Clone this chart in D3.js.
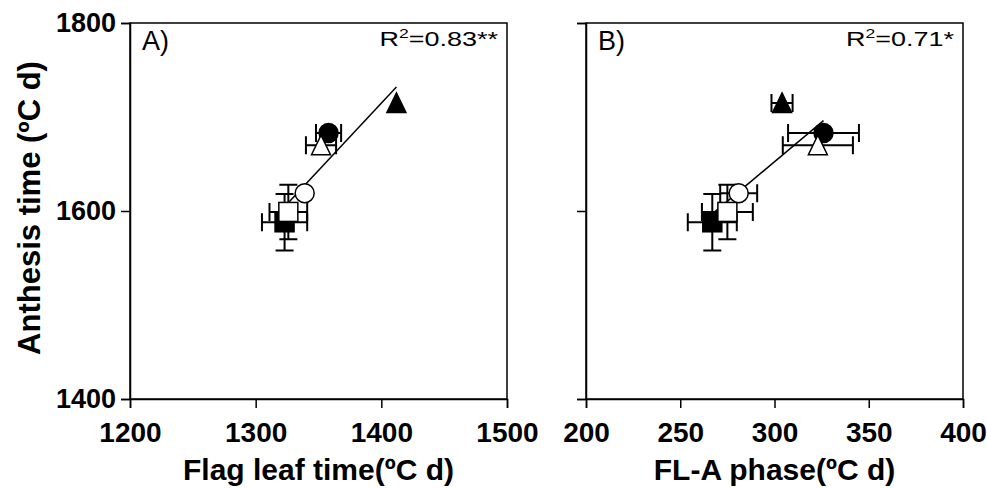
<!DOCTYPE html>
<html>
<head>
<meta charset="utf-8">
<script src="https://cdn.jsdelivr.net/npm/d3@7"></script>
<style>
  body { margin: 0; background: #fff; }
  svg text { font-family: Arial, "Liberation Sans", Helvetica, sans-serif; }
</style>
</head>
<body>
<div id="chart"></div>
<script>
// six treatments, same order in every array
const anthesis = [1715, 1683, 1670, 1619, 1599, 1588];
const anthesisErr = [4, 5, 5, 5, 29, 30];
const flagLeaf = [1412, 1358, 1352, 1339, 1326, 1323];
const flagLeafErr = [3, 10, 12, 5, 15, 18];
const flPhase = [304, 326, 323, 281, 275, 267];
const flPhaseErr = [5.6, 18.8, 18.6, 9.8, 13.5, 13];
const xTicksA = [1200, 1300, 1400, 1500];
const xTicksB = [200, 250, 300, 350, 400];
const yTicks = [1400, 1600, 1800];

const shapes = ["triangle", "circle", "triangle", "circle", "square", "square"];
const fills = ["#000", "#000", "#fff", "#fff", "#fff", "#000"];
const drawOrder = [5, 4, 3, 1, 2, 0];

const width = 987, height = 488;
const plotTop = 23, plotBottom = 399;
const markerR = 10;

const svg = d3.select("#chart").append("svg")
    .attr("width", width)
    .attr("height", height);

const y = d3.scaleLinear().domain([1400, 1800]).range([plotBottom, plotTop]);

function panel(left, right, xs, xErr, xDomain, xTicks, letter, r2, xTitle, showYLabels) {
    const x = d3.scaleLinear().domain(xDomain).range([left, right]);
    const g = svg.append("g");

    // frame
    g.append("rect")
        .attr("x", left).attr("y", plotTop)
        .attr("width", right - left).attr("height", plotBottom - plotTop)
        .attr("fill", "none").attr("stroke", "#000").attr("stroke-width", 1.5);

    const xa = g.append("g")
        .attr("transform", `translate(0,${plotBottom})`)
        .call(d3.axisBottom(x).tickValues(xTicks).tickSize(9).tickPadding(14).tickFormat(d3.format("d")));
    const ya = g.append("g")
        .attr("transform", `translate(${left},0)`)
        .call(d3.axisLeft(y).tickValues(yTicks).tickSize(9).tickPadding(5)
            .tickFormat(showYLabels ? d3.format("d") : () => ""));
    [xa, ya].forEach(a => {
        a.select(".domain").attr("stroke-width", 1.5);
        a.selectAll(".tick line").attr("stroke-width", 1.5);
        a.selectAll("text").attr("font-weight", "bold")
            .attr("fill", "#000").style("font-family", "Arial, 'Liberation Sans', sans-serif");
    });
    xa.selectAll("text").attr("font-size", 28);
    ya.selectAll("text").attr("font-size", 27);

    // regression line (least squares)
    const mx = d3.mean(xs), my = d3.mean(anthesis);
    const slope = d3.sum(xs, (v, i) => (v - mx) * (anthesis[i] - my)) / d3.sum(xs, v => (v - mx) * (v - mx));
    const [x0, x1] = d3.extent(xs);
    g.append("line")
        .attr("x1", x(x0)).attr("y1", y(my + slope * (x0 - mx)))
        .attr("x2", x(x1)).attr("y2", y(my + slope * (x1 - mx)))
        .attr("stroke", "#000").attr("stroke-width", 1.5);

    // error bars, left out when shorter than the symbol
    const cap = 9;
    drawOrder.forEach(i => {
        const cx = x(xs[i]), cy = y(anthesis[i]);
        const xl = x(xs[i] - xErr[i]), xr = x(xs[i] + xErr[i]);
        const yt = y(anthesis[i] + anthesisErr[i]), yb = y(anthesis[i] - anthesisErr[i]);
        let p = "";
        if (cx - xl > markerR) {
            p += `M${xl},${cy}H${xr}M${xl},${cy - cap}V${cy + cap}M${xr},${cy - cap}V${cy + cap}`;
        }
        if (cy - yt > markerR) {
            p += `M${cx},${yt}V${yb}M${cx - cap},${yt}H${cx + cap}M${cx - cap},${yb}H${cx + cap}`;
        }
        if (p) g.append("path").attr("d", p).attr("fill", "none")
            .attr("stroke", "#000").attr("stroke-width", 2);
    });

    // markers
    drawOrder.forEach(i => {
        const cx = x(xs[i]), cy = y(anthesis[i]);
        let m;
        if (shapes[i] === "circle") {
            m = g.append("circle").attr("cx", cx).attr("cy", cy).attr("r", 9.5);
        } else if (shapes[i] === "square") {
            m = g.append("rect").attr("x", cx - 9.5).attr("y", cy - 9.5).attr("width", 19).attr("height", 19);
        } else {
            m = g.append("path").attr("d", `M${cx},${cy - 10}L${cx + 9.5},${cy + 9.5}L${cx - 9.5},${cy + 9.5}Z`);
        }
        m.attr("fill", fills[i]).attr("stroke", "#000").attr("stroke-width", 1.5);
    });

    g.append("text")
        .attr("x", left + 12).attr("y", plotTop + 27)
        .attr("font-size", 27).text(letter);

    const t = g.append("text")
        .attr("transform", `translate(${right - 9},${plotTop + 23}) scale(1.35,1)`)
        .attr("text-anchor", "end").attr("font-size", 20);
    t.append("tspan").text("R");
    t.append("tspan").attr("font-size", 13).attr("dy", -8).text("2");
    t.append("tspan").attr("dy", 8).text(r2);

    g.append("text")
        .attr("x", (left + right) / 2).attr("y", 480)
        .attr("text-anchor", "middle").attr("font-size", 30).attr("font-weight", "bold")
        .text(xTitle);
}

panel(130, 507, flagLeaf, flagLeafErr, [1200, 1500], xTicksA, "A)", "=0.83**", "Flag leaf time(ºC d)", true);
panel(586, 963, flPhase, flPhaseErr, [200, 400], xTicksB, "B)", "=0.71*", "FL-A phase(ºC d)", false);

svg.append("text")
    .attr("transform", `translate(40,208) rotate(-90)`)
    .attr("text-anchor", "middle").attr("font-size", 31).attr("font-weight", "bold")
    .text("Anthesis time (ºC d)");
</script>
</body>
</html>
